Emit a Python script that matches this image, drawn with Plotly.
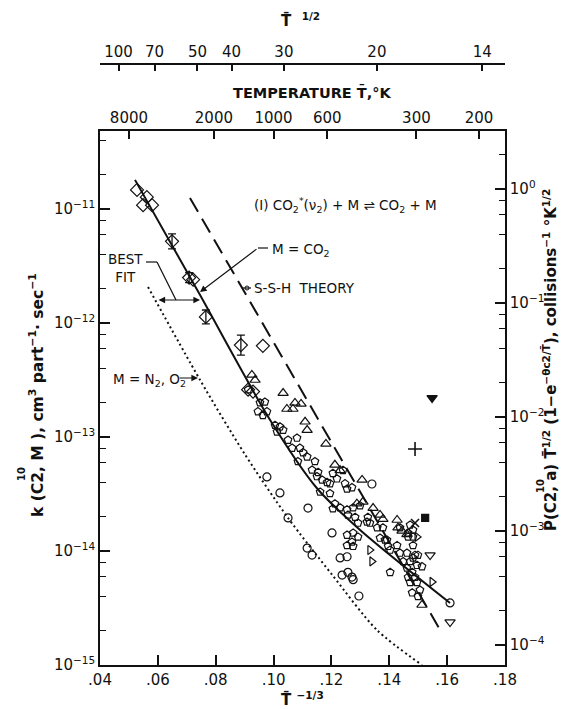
import plotly.graph_objects as go

# ---------------- data (x = T^-1/3, k in cm^3 part^-1 sec^-1) ----------------
diam_err_x = [0.0649, 0.0708, 0.0766, 0.0887]
diam_err_k = [5.2e-12, 2.5e-12, 1.13e-12, 6.4e-13]
diam_err_dec = [0.066, 0.044, 0.061, 0.088]

diam_x = [0.0528, 0.0562, 0.0549, 0.0580, 0.0722, 0.0963, 0.0912, 0.0929]
diam_k = [1.47e-11, 1.27e-11, 1.08e-11, 1.08e-11, 2.4e-12, 6.3e-13, 2.6e-13, 2.5e-13]

tri_up_x = [0.0925, 0.0936, 0.1033, 0.1046, 0.1067, 0.1074, 0.1095, 0.1109, 0.1116, 0.1181,
            0.1212, 0.1230, 0.1306, 0.1288, 0.1309, 0.1344, 0.1368, 0.1378, 0.1427, 0.1430,
            0.1444, 0.1461, 0.1513]
tri_up_k = [3.5e-13, 3.16e-13, 2.43e-13, 1.76e-13, 1.76e-13, 1.99e-13, 1.95e-13, 1.36e-13, 1.15e-13, 8.7e-14,
            5.7e-14, 5.1e-14, 4.2e-14, 2.6e-14, 2.7e-14, 2.38e-14, 2.07e-14, 1.9e-14, 1.87e-14, 1.6e-14,
            1.5e-14, 1.4e-14, 3.36e-15]

tri_dn_x = [0.1541, 0.1610]
tri_dn_k = [9.2e-15, 2.38e-15]

tri_side_x = [0.1548, 0.1333, 0.1496, 0.1340]
tri_side_k = [5.35e-15, 1.02e-14, 1.33e-14, 8.1e-15]

filled_dn_x = [0.1548]
filled_dn_k = [2.2e-13]
plus_x = [0.1489]
plus_k = [7.85e-14]
cross_x = [0.1489]
cross_k = [1.76e-14]
dot_sq_x = [0.1524]
dot_sq_k = [1.95e-14]

circ_x = [0.0977, 0.1022, 0.1050, 0.1119, 0.1202, 0.1116, 0.1133, 0.1230, 0.1254, 0.1237,
          0.1257, 0.1271, 0.1275, 0.1295, 0.1340, 0.1610]
circ_k = [4.46e-14, 3.23e-14, 1.95e-14, 2.38e-14, 1.44e-14, 1.06e-14, 9.2e-15, 8.7e-15, 8.9e-15, 6.15e-15,
          6.5e-15, 5.9e-15, 5.6e-15, 4.03e-15, 3.87e-14, 3.5e-15]

pent_x = [0.0912, 0.0953, 0.0970, 0.0946, 0.0977, 0.0963, 0.1005, 0.1022, 0.1012, 0.1033,
          0.1050, 0.1081, 0.1091, 0.1064, 0.1116, 0.1084, 0.1102, 0.1143, 0.1133, 0.1154,
          0.1168, 0.1185, 0.1150, 0.1195, 0.1205, 0.1219, 0.1247, 0.1254, 0.1271, 0.1161,
          0.1195, 0.1212, 0.1205, 0.1230, 0.1254, 0.1275, 0.1257, 0.1282, 0.1299, 0.1326,
          0.1333, 0.1358, 0.1378, 0.1292, 0.1323]
pent_k = [2.6e-13, 2.0e-13, 2.03e-13, 1.67e-13, 1.67e-13, 1.55e-13, 1.27e-13, 1.23e-13, 1.11e-13, 1.15e-13,
          9.4e-14, 9.8e-14, 8.0e-14, 8.0e-14, 6.7e-14, 6.1e-14, 7.3e-14, 6.1e-14, 5.14e-14, 4.9e-14,
          4.2e-14, 4.0e-14, 4.5e-14, 3.9e-14, 4.8e-14, 4.3e-14, 3.9e-14, 3.5e-14, 3.6e-14, 3.3e-14,
          3.2e-14, 2.6e-14, 2.35e-14, 2.4e-14, 2.3e-14, 2.4e-14, 2.07e-14, 1.98e-14, 2.5e-14, 1.98e-14,
          1.76e-14, 1.6e-14, 1.6e-14, 1.76e-14, 1.8e-14]

sq_x = [0.1240, 0.1437, 0.1465, 0.1482, 0.1254, 0.1275, 0.1271, 0.1292, 0.1275, 0.1254,
        0.1392, 0.1396, 0.1427, 0.1437, 0.1461, 0.1482, 0.1499, 0.1482, 0.1368, 0.1385,
        0.1403, 0.1489, 0.1448, 0.1472, 0.1496, 0.1513, 0.1461, 0.1479, 0.1465, 0.1489,
        0.1472, 0.1496, 0.1506, 0.1479, 0.1499, 0.1403, 0.1472, 0.1482, 0.1465]
sq_k = [5.1e-14, 1.6e-14, 1.44e-14, 1.33e-14, 1.38e-14, 1.44e-14, 1.2e-14, 1.33e-14, 1.1e-14, 1.12e-14,
        1.25e-14, 1.1e-14, 1.12e-14, 9.6e-15, 9.6e-15, 1.12e-14, 9.2e-15, 8.7e-15, 1.3e-14, 1.25e-14,
        1.02e-14, 9.2e-15, 8.1e-15, 8.1e-15, 7.5e-15, 7.3e-15, 7.1e-15, 6.5e-15, 5.9e-15, 5.9e-15,
        5.3e-15, 5.3e-15, 4.55e-15, 4.3e-15, 4.0e-15, 6.5e-15, 1.69e-14, 1.53e-14, 1.33e-14]

# curves
fit_x = [0.0521, 0.0742, 0.0988, 0.1150, 0.1299, 0.1610]
fit_k = [1.8e-11, 1.83e-12, 1.41e-13, 3.55e-14, 1.53e-14, 3.5e-15]
ssh_x = [0.0711, 0.1572]
ssh_k = [1.25e-11, 2.11e-15]
n2_x = [0.0566, 0.0746, 0.0900, 0.1050, 0.1200, 0.1357, 0.1513]
n2_k = [2.07e-12, 3.16e-13, 7.1e-14, 1.95e-14, 6.3e-15, 2.03e-15, 1.0e-15]

# axes
x_ticks = [0.04, 0.06, 0.08, 0.10, 0.12, 0.14, 0.16, 0.18]
x_labels = [".04", ".06", ".08", ".10", ".12", ".14", ".16", ".18"]
temp_ticks = [8000, 2000, 1000, 600, 300, 200]
sqrt_ticks = [100, 70, 50, 40, 30, 20, 14]
left_decades = [-15, -14, -13, -12, -11]
right_decades = [-4, -3, -2, -1, 0]

# ---------------- figure ----------------
FONT = "DejaVu Sans"
BLACK = "#111111"
L, R, T, B = 100, 57, 40, 44
W, H = 562, 709
PW, PH = W - L - R, H - T - B


def P(xp, yp):
    return (xp - L) / PW, (H - B - yp) / PH


ydom_top = P(0, 131)[1]

fig = go.Figure()


def mk(sym, size=7, lw=1.2, color=BLACK):
    return dict(symbol=sym, size=size, color=color, line=dict(width=lw, color=BLACK))


# curves
fig.add_trace(go.Scatter(x=fit_x, y=fit_k, mode="lines", line=dict(color=BLACK, width=2, shape="spline", smoothing=0.8)))
fig.add_trace(go.Scatter(x=ssh_x, y=ssh_k, mode="lines", line=dict(color=BLACK, width=2, dash="16px,8px")))
fig.add_trace(go.Scatter(x=n2_x, y=n2_k, mode="lines", line=dict(color=BLACK, width=2, dash="2px,3px", shape="spline", smoothing=0.8)))

# markers
plus_e = [k * (10 ** d - 1) for k, d in zip(diam_err_k, diam_err_dec)]
minus_e = [k * (1 - 10 ** (-d)) for k, d in zip(diam_err_k, diam_err_dec)]
fig.add_trace(go.Scatter(x=diam_err_x, y=diam_err_k, mode="markers", marker=mk("diamond-open", 10),
                         error_y=dict(type="data", symmetric=False, array=plus_e, arrayminus=minus_e,
                                      color=BLACK, thickness=1.3, width=4)))
fig.add_trace(go.Scatter(x=diam_x, y=diam_k, mode="markers", marker=mk("diamond-open", 10)))
fig.add_trace(go.Scatter(x=pent_x, y=pent_k, mode="markers", marker=mk("pentagon-open", 8)))
fig.add_trace(go.Scatter(x=sq_x, y=sq_k, mode="markers", marker=mk("pentagon-open", 8)))
fig.add_trace(go.Scatter(x=tri_up_x, y=tri_up_k, mode="markers", marker=mk("triangle-up-open", 9)))
fig.add_trace(go.Scatter(x=tri_dn_x, y=tri_dn_k, mode="markers", marker=mk("triangle-down-open", 9)))
fig.add_trace(go.Scatter(x=tri_side_x, y=tri_side_k, mode="markers", marker=mk("triangle-right-open", 8)))
fig.add_trace(go.Scatter(x=circ_x, y=circ_k, mode="markers", marker=mk("circle-open", 8)))
fig.add_trace(go.Scatter(x=filled_dn_x, y=filled_dn_k, mode="markers", marker=mk("triangle-down", 9)))
fig.add_trace(go.Scatter(x=plus_x, y=plus_k, mode="markers", marker=mk("cross-thin-open", 10, 1.6)))
fig.add_trace(go.Scatter(x=cross_x, y=cross_k, mode="markers", marker=mk("x-thin-open", 8, 1.6)))
fig.add_trace(go.Scatter(x=dot_sq_x, y=dot_sq_k, mode="markers", marker=mk("square", 7)))

# invisible traces to activate extra axes
fig.add_trace(go.Scatter(x=[0.1], y=[1e-13], xaxis="x2", mode="markers", marker=dict(opacity=0), hoverinfo="skip"))
fig.add_trace(go.Scatter(x=[0.1], y=[1e-13], xaxis="x3", mode="markers", marker=dict(opacity=0), hoverinfo="skip"))
fig.add_trace(go.Scatter(x=[0.1], y=[1e-2], yaxis="y2", mode="markers", marker=dict(opacity=0), hoverinfo="skip"))

tickfont = dict(family=FONT, size=15, color=BLACK)
xr = [0.04, 0.18]


def minors(decs):
    out = []
    for d in decs:
        for m in (2, 4, 6, 8):
            out.append(m * 10.0 ** d)
    return out


fig.update_layout(
    width=W, height=H, margin=dict(l=L, r=R, t=T, b=B),
    paper_bgcolor="white", plot_bgcolor="white", showlegend=False,
    font=dict(family=FONT, color=BLACK),
    xaxis=dict(range=xr, tickvals=x_ticks, ticktext=x_labels, ticks="inside", ticklen=10, tickwidth=1.5,
               tickcolor=BLACK, showline=True, linecolor=BLACK, linewidth=1.6, showgrid=False, zeroline=False,
               tickfont=tickfont),
    xaxis2=dict(range=xr, overlaying="x", side="top", anchor="y",
                tickvals=[t ** (-1 / 3) for t in temp_ticks], ticktext=[str(t) for t in temp_ticks],
                ticks="inside", ticklen=8, tickwidth=1.5, tickcolor=BLACK, showline=True, linecolor=BLACK,
                linewidth=1.6, showgrid=False, zeroline=False, tickfont=tickfont),
    xaxis3=dict(range=xr, overlaying="x", side="top", anchor="free", position=P(0, 64)[1],
                tickvals=[(s ** 2) ** (-1 / 3) for s in sqrt_ticks], ticktext=[str(s) for s in sqrt_ticks],
                ticks="inside", ticklen=6, tickwidth=1.5, tickcolor=BLACK, showline=True, linecolor=BLACK,
                linewidth=1.6, showgrid=False, zeroline=False, tickfont=tickfont),
    yaxis=dict(type="log", domain=[0, ydom_top], range=[-15, -10.316],
               tickvals=[10.0 ** d for d in left_decades],
               ticktext=["10<sup>−%d</sup>" % (-d) for d in left_decades],
               ticks="inside", ticklen=10, tickwidth=1.5, tickcolor=BLACK,
               minor=dict(tickvals=minors(left_decades), ticks="inside", ticklen=6, tickwidth=1.3,
                          tickcolor=BLACK, showgrid=False),
               showline=True, linecolor=BLACK, linewidth=1.6, showgrid=False, zeroline=False, tickfont=tickfont),
    yaxis2=dict(type="log", overlaying="y", side="right", anchor="x", range=[-4.175, 0.509],
                tickvals=[10.0 ** d for d in right_decades],
                ticktext=["10<sup>0</sup>" if d == 0 else "10<sup>−%d</sup>" % (-d) for d in right_decades],
                ticks="inside", ticklen=10, tickwidth=1.5, tickcolor=BLACK,
                minor=dict(tickvals=minors(right_decades), ticks="inside", ticklen=6, tickwidth=1.3,
                           tickcolor=BLACK, showgrid=False),
                showline=True, linecolor=BLACK, linewidth=1.6, showgrid=False, zeroline=False, tickfont=tickfont),
)

ann = []


def text(xp, yp, s, size=14, xanchor="center", angle=0, bold=False):
    x, y = P(xp, yp)
    ann.append(dict(x=x, y=y, xref="paper", yref="paper", text=("<b>%s</b>" % s) if bold else s,
                    showarrow=False, xanchor=xanchor, yanchor="middle", textangle=angle,
                    font=dict(family=FONT, size=size, color=BLACK)))


def arrow(hx, hy, tx, ty, side="end"):
    x, y = P(hx, hy)
    ann.append(dict(x=x, y=y, xref="paper", yref="paper", text="", showarrow=True, ax=tx - hx, ay=ty - hy,
                    arrowhead=2, arrowsize=1.1, arrowwidth=1.2, arrowcolor=BLACK, arrowside=side,
                    startarrowhead=2, startarrowsize=1.1))


text(300, 20, "T̄  <sup>1/2</sup>", 15, bold=True)
text(312, 92, "TEMPERATURE T̄,°K", 14.5, bold=True)
text(302, 699, "T̄ <sup>−1/3</sup>", 15, bold=True)
text(36, 395, "k (C2, M ), cm<sup>3</sup> part<sup>−1</sup>· sec<sup>−1</sup>", 15.5, angle=-90, bold=True)
text(21, 474, "10", 10, angle=-90, bold=True)
text(550, 360, "P(C2, a) T̄<sup>1/2</sup> (1−e<sup>−θc2/T̄</sup>), collisions<sup>−1</sup> °K<sup>1/2</sup>",
     15, angle=-90, bold=True)
text(540, 486, "10", 10, angle=-90, bold=True)

text(252, 205, "(I) CO<sub>2</sub><sup>*</sup>(ν<sub>2</sub>) + M ⇌ CO<sub>2</sub> + M", 13.5, xanchor="left")
text(270, 250, "M = CO<sub>2</sub>", 13.5, xanchor="left")
text(252, 288, "S-S-H  THEORY", 13.5, xanchor="left")
text(125, 268, "BEST<br>FIT", 13.5)
text(111, 380, "M = N<sub>2</sub>, O<sub>2</sub>", 13.5, xanchor="left")

arrow(200, 292, 258, 248)
arrow(198, 378, 178, 378)
arrow(200, 300, 157, 300, side="end+start")

shapes = []


def seg(x0, y0, x1, y1, w=1.2):
    a, b = P(x0, y0)
    c, d = P(x1, y1)
    shapes.append(dict(type="line", xref="paper", yref="paper", x0=a, y0=b, x1=c, y1=d,
                       line=dict(color=BLACK, width=w)))


seg(258, 248, 268, 248)
seg(242, 288, 251, 288)
seg(146, 262, 157, 262)
seg(157, 262, 176, 300)
c0, c1 = P(245, 286), P(249, 290)
shapes.append(dict(type="circle", xref="paper", yref="paper", x0=c0[0], y0=c0[1], x1=c1[0], y1=c1[1],
                   line=dict(color=BLACK, width=1)))

fig.update_layout(annotations=ann, shapes=shapes)
fig.write_html("out.html", config={"displayModeBar": False},
               post_script="document.body.style.margin='0';document.body.style.overflow='hidden';")
